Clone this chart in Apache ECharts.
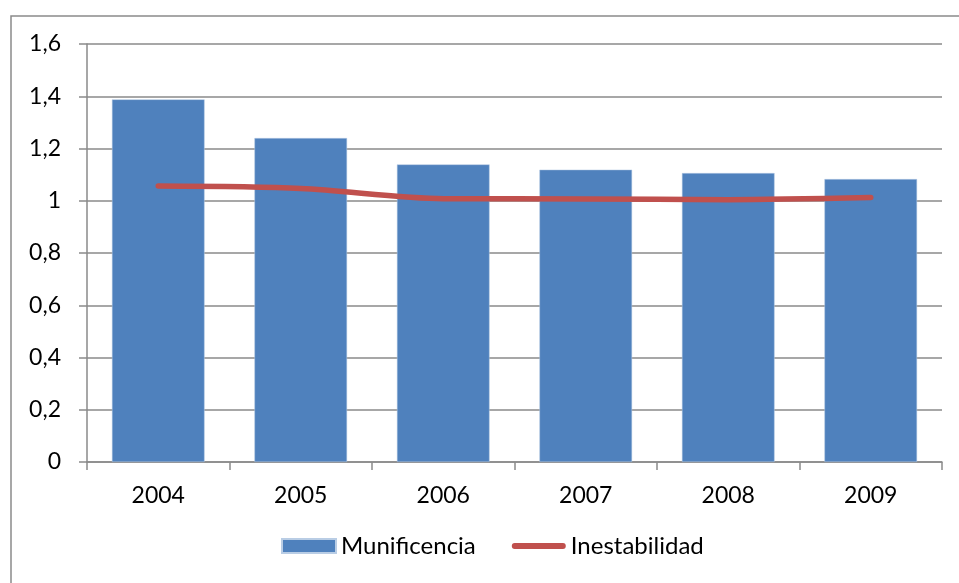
<!DOCTYPE html>
<html>
<head>
<meta charset="utf-8">
<script src="https://cdn.jsdelivr.net/npm/echarts@6/dist/echarts.min.js"></script>
<style>
  html, body { margin: 0; padding: 0; background: #fff; }
  #main { width: 959px; height: 583px; }
</style>
</head>
<body>
<div id="main"></div>
<script>
// años
var years = ['2004', '2005', '2006', '2007', '2008', '2009'];
// barras
var munificencia = [1.388, 1.240, 1.139, 1.119, 1.106, 1.083];
// línea
var inestabilidad = [1.056, 1.047, 1.008, 1.007, 1.004, 1.012];

// icono de leyenda: trazo grueso con extremos redondeados
var lineIcon = 'path://M0,0 L0,0 M3,4 L53,4 A3,3 0 0 1 53,10 L3,10 A3,3 0 0 1 3,4 Z M56,14 L56,14';

var chart = echarts.init(document.getElementById('main'));
chart.setOption({
  backgroundColor: '#fff',
  animation: false,
  textStyle: { fontFamily: 'Lato' },
  graphic: [{
    type: 'rect',
    shape: { x: 11, y: 16, width: 980, height: 600 },
    style: { fill: 'none', stroke: '#8a8a8a', lineWidth: 1.5 },
    silent: true
  }],
  grid: { left: 87, right: 17, top: 44, bottom: 121 },
  legend: {
    bottom: 20,
    left: 276,
    itemWidth: 54,
    itemHeight: 14,
    itemGap: 36,
    textStyle: { fontSize: 24, color: '#000' },
    data: [
      { name: 'Munificencia', icon: 'rect' },
      { name: 'Inestabilidad', icon: lineIcon }
    ]
  },
  xAxis: {
    type: 'category',
    data: years,
    axisLine: { lineStyle: { color: '#8a8a8a', width: 1.5 } },
    axisTick: { show: true, length: 8, lineStyle: { color: '#8a8a8a', width: 1.5 } },
    axisLabel: { color: '#000', fontSize: 23, margin: 22 }
  },
  yAxis: {
    type: 'value',
    min: 0,
    max: 1.6,
    interval: 0.2,
    axisLine: { show: true, lineStyle: { color: '#8a8a8a', width: 1.5 } },
    axisTick: { show: true, length: 8, lineStyle: { color: '#8a8a8a', width: 1.5 } },
    axisLabel: {
      color: '#000',
      fontSize: 23,
      margin: 26,
      formatter: function (v) {
        return String(Math.round(v * 10) / 10).replace('.', ',');
      }
    },
    splitLine: { lineStyle: { color: '#8a8a8a', width: 1.5 } }
  },
  series: [
    {
      name: 'Munificencia',
      type: 'bar',
      data: munificencia,
      barCategoryGap: '35%',
      itemStyle: { color: '#4F81BD', borderColor: '#b9cde5', borderWidth: 0.5 }
    },
    {
      name: 'Inestabilidad',
      type: 'line',
      data: inestabilidad,
      smooth: 0.3,
      symbol: 'none',
      lineStyle: { color: '#C0504D', width: 5.5, cap: 'round' },
      itemStyle: { color: '#C0504D' }
    }
  ]
});
</script>
</body>
</html>
